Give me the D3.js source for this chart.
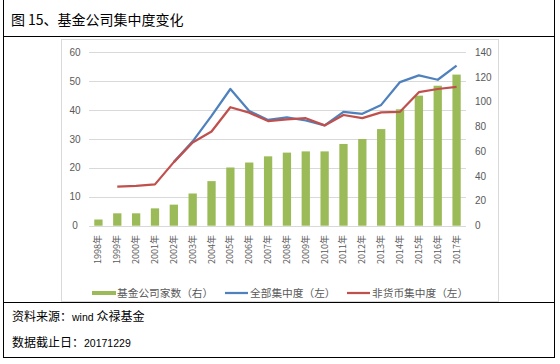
<!DOCTYPE html>
<html>
<head>
<meta charset="utf-8">
<script src="https://cdn.jsdelivr.net/npm/d3@7"></script>
<style>
  body { margin: 0; background: #fff; }
  svg { display: block; }
</style>
</head>
<body>
<div id="chart"></div>
<script>
// Taille de la page
const width = 560;
const height = 364;

// Données
const years = ["1998年", "1999年", "2000年", "2001年", "2002年", "2003年", "2004年", "2005年", "2006年", "2007年",
  "2008年", "2009年", "2010年", "2011年", "2012年", "2013年", "2014年", "2015年", "2016年", "2017年"];
const companies = [5, 10, 10, 14, 17, 26, 36, 47, 51, 56, 59, 60, 60, 66, 70, 78, 94, 105, 113, 122];
const allConc = [null, null, null, null, 22, 29.2, 38, 47.3, 39.7, 36.6, 37.5, 36.4, 34.7, 39.4, 38.7, 41.8, 49.7, 52, 50.5, 55.4];
const nonMoneyConc = [null, 13.5, 13.8, 14.3, 22, 28.8, 32.6, 41, 39.1, 36.2, 36.8, 37.2, 34.7, 38.3, 37.2, 39.2, 39.4, 46.2, 47.3, 48];
const leftTicks = [0, 10, 20, 30, 40, 50, 60];
const rightTicks = [0, 20, 40, 60, 80, 100, 120, 140];
const legendNames = ["基金公司家数（右）", "全部集中度（左）", "非货币集中度（左）"];

const green = "#9BBB59";
const blue = "#4F81BD";
const red = "#C0504D";
const grey = "#595959";
const cjk = "'Noto Sans CJK SC', 'Noto Sans', sans-serif";

const svg = d3.select("#chart")
  .append("svg")
  .attr("width", width)
  .attr("height", height);

svg.append("rect")
  .attr("width", width)
  .attr("height", height)
  .attr("fill", "#fff");

// Cadre de l'image du graphique
svg.append("rect")
  .attr("x", 61.5)
  .attr("y", 39.5)
  .attr("width", 437)
  .attr("height", 262)
  .attr("fill", "#fff")
  .attr("stroke", "#D9D9D9");

// Echelles
const x = d3.scaleBand()
  .domain(years)
  .range([89, 466])
  .paddingInner(0.56)
  .paddingOuter(0.28);

const yL = d3.scaleLinear().domain([0, 60]).range([225.7, 52.3]);
const yR = d3.scaleLinear().domain([0, 140]).range([225.7, 52.3]);

// Grille
svg.selectAll("line.grid")
  .data(leftTicks)
  .enter()
  .append("line")
  .attr("class", "grid")
  .attr("x1", 89)
  .attr("x2", 466)
  .attr("y1", d => Math.round(yL(d)) + 0.5)
  .attr("y2", d => Math.round(yL(d)) + 0.5)
  .attr("stroke", "#D9D9D9")
  .attr("stroke-width", 1);

// Axe gauche
svg.selectAll("text.left")
  .data(leftTicks)
  .enter()
  .append("text")
  .attr("class", "left")
  .attr("x", 75)
  .attr("y", d => yL(d) + 3.5)
  .attr("text-anchor", "middle")
  .attr("font-family", "'Liberation Sans', Arial, sans-serif")
  .attr("font-size", "10px")
  .attr("fill", grey)
  .text(d => d);

// Axe droit
svg.selectAll("text.right")
  .data(rightTicks)
  .enter()
  .append("text")
  .attr("class", "right")
  .attr("x", 475)
  .attr("y", d => yR(d) + 3.5)
  .attr("font-family", "'Liberation Sans', Arial, sans-serif")
  .attr("font-size", "10px")
  .attr("fill", grey)
  .text(d => d);

// Barres
svg.selectAll("rect.bar")
  .data(companies)
  .enter()
  .append("rect")
  .attr("class", "bar")
  .attr("x", (d, i) => x(years[i]))
  .attr("y", d => yR(d))
  .attr("width", x.bandwidth())
  .attr("height", d => yR(0) - yR(d))
  .attr("fill", green);

// Lignes
const cx = i => x(years[i]) + x.bandwidth() / 2;
const line = d3.line()
  .defined(d => d != null)
  .x((d, i) => cx(i))
  .y(d => yL(d));

svg.append("path")
  .datum(allConc)
  .attr("d", line)
  .attr("fill", "none")
  .attr("stroke", blue)
  .attr("stroke-width", 2.25)
  .attr("stroke-linejoin", "round");

svg.append("path")
  .datum(nonMoneyConc)
  .attr("d", line)
  .attr("fill", "none")
  .attr("stroke", red)
  .attr("stroke-width", 2.25)
  .attr("stroke-linejoin", "round");

// Etiquettes des années
svg.selectAll("text.year")
  .data(years)
  .enter()
  .append("text")
  .attr("class", "year")
  .attr("transform", d => `translate(${x(d) + x.bandwidth() / 2 + 3},235) rotate(-90)`)
  .attr("text-anchor", "end")
  .attr("font-family", cjk)
  .attr("font-size", "9px")
  .attr("fill", grey)
  .text(d => d);

// Légende
const legend = [
  { x: 92, color: green, type: "rect" },
  { x: 225, color: blue, type: "line" },
  { x: 347, color: red, type: "line" }
];

legend.forEach((l, i) => {
  if (l.type === "rect") {
    svg.append("rect")
      .attr("x", l.x)
      .attr("y", 291)
      .attr("width", 24)
      .attr("height", 4)
      .attr("fill", l.color);
  } else {
    svg.append("line")
      .attr("x1", l.x)
      .attr("x2", l.x + 23)
      .attr("y1", 293)
      .attr("y2", 293)
      .attr("stroke", l.color)
      .attr("stroke-width", 2.25);
  }
  svg.append("text")
    .attr("x", l.x + 25)
    .attr("y", 297)
    .attr("font-family", cjk)
    .attr("font-size", "10.7px")
    .attr("fill", grey)
    .text(legendNames[i]);
});

// Cadre noir, titre et notes
svg.append("rect")
  .attr("x", 3.5)
  .attr("y", -2)
  .attr("width", 551)
  .attr("height", 359.5)
  .attr("fill", "none")
  .attr("stroke", "#000");

svg.append("line")
  .attr("x1", 3).attr("x2", 555)
  .attr("y1", 36.5).attr("y2", 36.5)
  .attr("stroke", "#000");

svg.append("line")
  .attr("x1", 3).attr("x2", 555)
  .attr("y1", 302.5).attr("y2", 302.5)
  .attr("stroke", "#000");

const title = svg.append("text")
  .attr("x", 11)
  .attr("y", 25)
  .attr("font-family", cjk)
  .attr("font-size", "14px")
  .attr("fill", "#000");
title.append("tspan").text("图");
title.append("tspan").attr("dx", 3).text("15、基金公司集中度变化");

const note1 = svg.append("text")
  .attr("x", 12)
  .attr("y", 321)
  .attr("font-family", cjk)
  .attr("font-size", "12px")
  .attr("fill", "#000");
note1.append("tspan").text("资料来源：");
note1.append("tspan")
  .attr("font-family", "'Liberation Sans', Arial, sans-serif")
  .attr("font-size", "10.5px")
  .text("wind ");
note1.append("tspan").text("众禄基金");

const note2 = svg.append("text")
  .attr("x", 12)
  .attr("y", 347)
  .attr("font-family", cjk)
  .attr("font-size", "12px")
  .attr("fill", "#000");
note2.append("tspan").text("数据截止日：");
note2.append("tspan")
  .attr("font-family", "'Liberation Sans', Arial, sans-serif")
  .attr("font-size", "10.5px")
  .text("20171229");
</script>
</body>
</html>
